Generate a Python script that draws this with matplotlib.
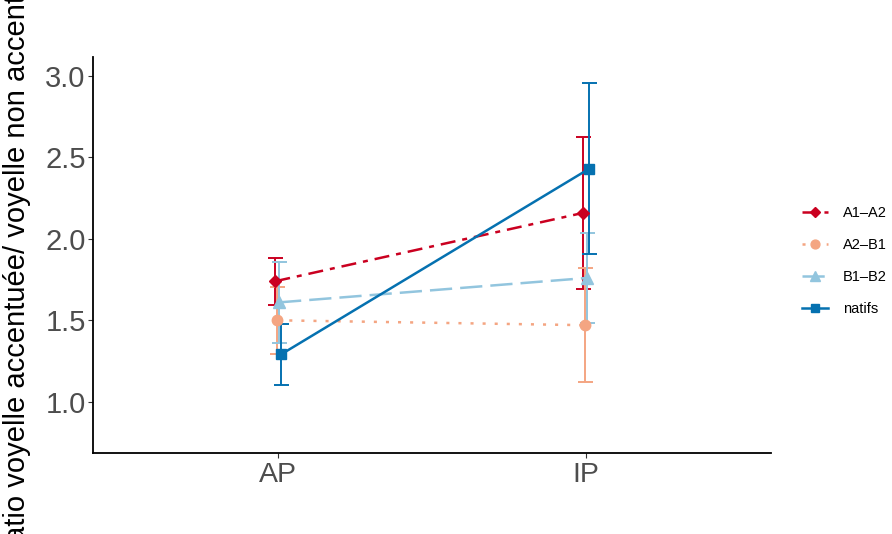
import matplotlib
matplotlib.use("Agg")
import matplotlib.pyplot as plt
from matplotlib.lines import Line2D
import numpy as np

plt.rcParams['font.family'] = ['Liberation Sans', 'DejaVu Sans']
plt.rcParams['lines.scale_dashes'] = False

categories = ["AP", "IP"]
groups = ["A1–A2", "A2–B1", "B1–B2", "natifs"]
means = {
    "A1–A2": [1.74, 2.16],
    "A2–B1": [1.50, 1.47],
    "B1–B2": [1.61, 1.76],
    "natifs": [1.29, 2.43],
}
errors = {
    "A1–A2": [0.145, 0.465],
    "A2–B1": [0.205, 0.35],
    "B1–B2": [0.25, 0.275],
    "natifs": [0.185, 0.525],
}
colors = {"A1–A2": "#CA0020", "A2–B1": "#F4A582", "B1–B2": "#92C5DE", "natifs": "#0571B0"}
markers = {"A1–A2": "D", "A2–B1": "o", "B1–B2": "^", "natifs": "s"}
msizes = {"A1–A2": 6.0, "A2–B1": 7.5, "B1–B2": 8.5, "natifs": 7.0}
dashes = {"A1–A2": (10.8, 5.0, 3.6, 5.0), "A2–B1": (2.2, 6.5), "B1–B2": (16, 5.8), "natifs": None}
offsets = {"A1–A2": -0.009, "A2–B1": -0.003, "B1–B2": 0.003, "natifs": 0.009}

fig = plt.figure(figsize=(8.92, 5.34), dpi=100)
ax = fig.add_axes([93.3/892, 1-453/534, (771-93.3)/892, (453-57)/534])

xbase = np.arange(1, len(categories)+1)
for g in groups:
    x = xbase + offsets[g]
    ax.errorbar(x, means[g], yerr=errors[g], fmt='none', ecolor=colors[g],
                elinewidth=1.4, capsize=5.4, capthick=1.4, zorder=2)
for g in groups:
    x = xbase + offsets[g]
    ln, = ax.plot(x, means[g], color=colors[g], lw=1.8, zorder=3,
                  solid_capstyle='butt', dash_capstyle='butt')
    if dashes[g] is not None:
        ln.set_dashes(dashes[g])
    ax.plot(x, means[g], linestyle='none', marker=markers[g], ms=msizes[g],
            color=colors[g], mec=colors[g], zorder=4)

ax.set_xlim(0.4, 2.6)
ax.set_ylim(0.685, 3.117)
ax.set_xticks(xbase)
ax.set_xticklabels(categories)
ax.set_yticks([1.0, 1.5, 2.0, 2.5, 3.0])
ax.set_yticklabels(["1.0", "1.5", "2.0", "2.5", "3.0"])
ax.tick_params(axis='both', colors='#333333', labelcolor='#4D4D4D', length=3.5, width=0.8)
ax.tick_params(axis='x', labelsize=20.5, pad=3)
ax.tick_params(axis='y', labelsize=21, pad=2)
for s in ['top', 'right']:
    ax.spines[s].set_visible(False)
for s in ['left', 'bottom']:
    ax.spines[s].set_linewidth(1.3)
    ax.spines[s].set_color('black')

fig.text(0.019, (1-255/534), "Ratio voyelle accentuée/ voyelle non accentuée",
         rotation=90, ha='center', va='center', fontsize=21, color='black')

handles = []
for g in groups:
    h = Line2D([0], [0], color=colors[g], lw=1.8, marker=markers[g], ms=msizes[g]*0.85)
    if dashes[g] is not None:
        h.set_dashes(dashes[g])
    handles.append(h)
leg = fig.legend(handles, groups, loc='center left', bbox_to_anchor=(802/892, 1-261/534),
                 frameon=False, fontsize=10.5, handlelength=1.8, handletextpad=1.0,
                 labelspacing=1.25, numpoints=1, borderaxespad=0, borderpad=0)

fig.savefig("out.png", dpi=100)
